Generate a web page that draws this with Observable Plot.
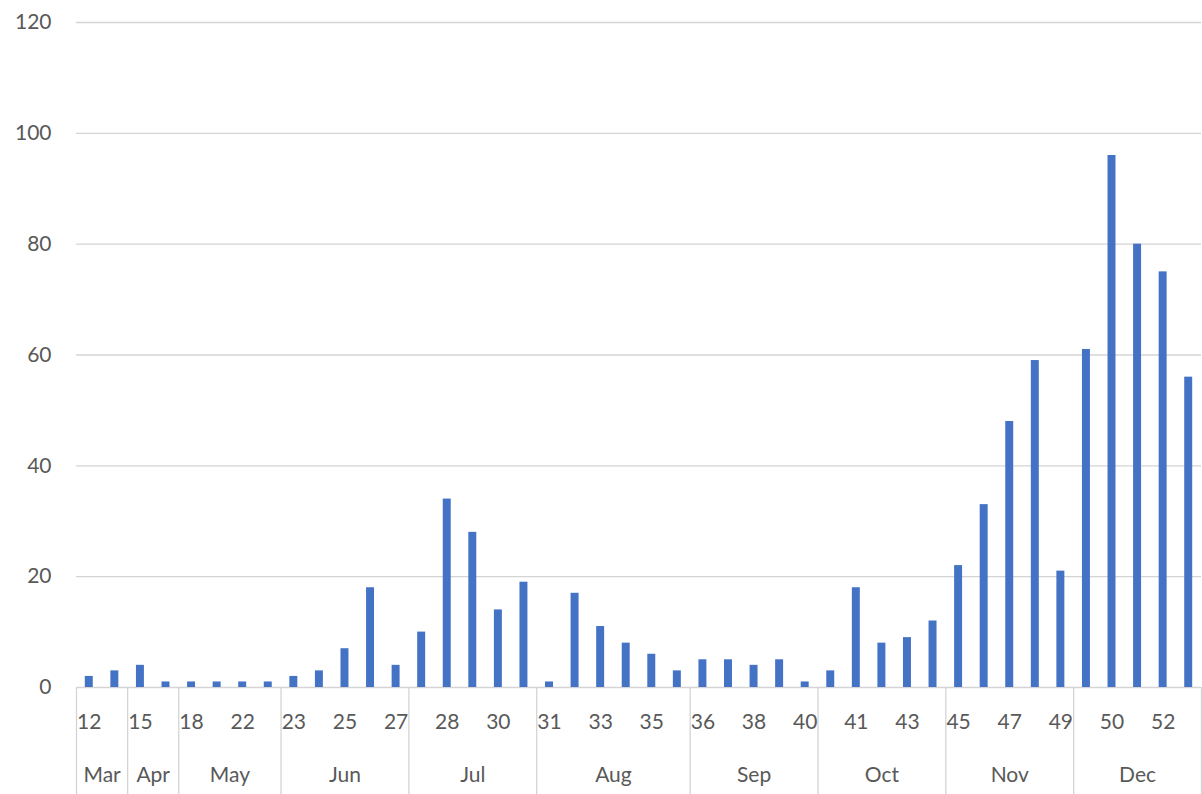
<!DOCTYPE html>
<html>
<head>
<meta charset="utf-8">
<script src="https://cdn.jsdelivr.net/npm/d3@7"></script>
<script src="https://cdn.jsdelivr.net/npm/@observablehq/plot@0.6"></script>
<style>
  html, body { margin: 0; padding: 0; background: #fff; }
  #chart { width: 1202px; height: 794px; }
</style>
</head>
<body>
<div id="chart"></div>
<script>
// Weekly counts, grouped by month (a week that straddles two months appears in both)
const months = ["Mar", "Apr", "May", "Jun", "Jul", "Aug", "Sep", "Oct", "Nov", "Dec"];
const weeksPerMonth = [2, 2, 4, 5, 5, 6, 5, 5, 5, 5];
const weekLabels = [
  12, 14,
  15, 17,
  18, 20, 22, 23,
  23, 24, 25, 26, 27,
  27, 28, 29, 30, 31,
  31, 32, 33, 34, 35, 36,
  36, 37, 38, 39, 40,
  40, 41, 42, 43, 44,
  45, 46, 47, 48, 49,
  49, 50, 51, 52, 53
];
const counts = [
  2, 3,
  4, 1,
  1, 1, 1, 1,
  2, 3, 7, 18, 4,
  10, 34, 28, 14, 19,
  1, 17, 11, 8, 6, 3,
  5, 5, 4, 5, 1,
  3, 18, 8, 9, 12,
  22, 33, 48, 59, 21,
  61, 96, 80, 75, 56
];
const yTicks = [0, 20, 40, 60, 80, 100, 120];

// One row per bar; slot i spans [i, i + 1] on the x scale
const bars = counts.map((value, i) => ({i, week: weekLabels[i], value}));

// Month groups: start/end slot of each
let cursor = 0;
const monthGroups = months.map((name, k) => {
  const start = cursor;
  cursor += weeksPerMonth[k];
  return {name, start, end: cursor};
});
const monthEdges = [0, ...monthGroups.map(g => g.end)];

const textColor = "#595959";
const gridColor = "#d4d4d4";
const barColor = "#4472c4";

const chart = Plot.plot({
  width: 1202,
  height: 794,
  marginLeft: 76,
  marginRight: 1,
  marginTop: 22,
  marginBottom: 107,
  style: {fontFamily: "Lato, 'Open Sans', sans-serif", fontSize: "21px", color: textColor, background: "#fff"},
  x: {domain: [0, weekLabels.length], label: null},
  y: {domain: [0, 120], ticks: yTicks, tickSize: 0, tickPadding: 25, label: null},
  marks: [
    Plot.ruleY(yTicks, {stroke: gridColor, strokeWidth: 1.3}),
    Plot.rectY(bars, {x: "i", interval: 1, y: "value", fill: barColor, insetLeft: 8.8, insetRight: 8.8}),
    // month separators running down through both label rows
    Plot.axisX(monthEdges, {tickSize: 107, tickFormat: () => "", label: null, stroke: gridColor, strokeWidth: 1.3}),
    // week numbers, every other slot
    Plot.text(bars.filter((d, k) => k % 2 === 0), {
      x: d => d.i + 0.5, y: 0, text: d => String(d.week), dy: 35, fill: textColor
    }),
    // month names centred under their weeks
    Plot.text(monthGroups, {
      x: d => (d.start + d.end) / 2, y: 0, text: "name", dy: 88, fill: textColor
    })
  ]
});

document.getElementById("chart").append(chart);
</script>
</body>
</html>
